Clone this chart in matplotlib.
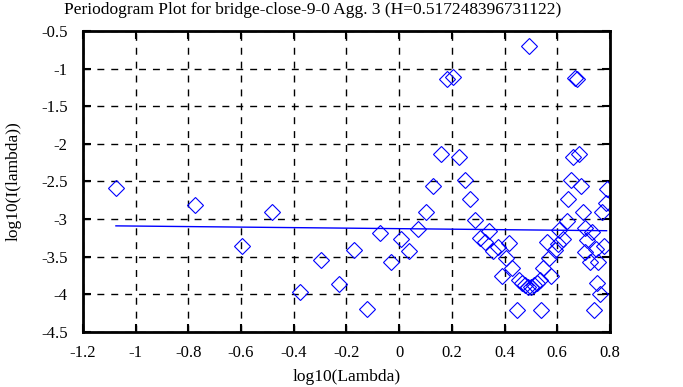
import numpy as np
import matplotlib
matplotlib.use("Agg")
import matplotlib.pyplot as plt

# ---------------------------------------------
# DATA
# ---------------------------------------------

log_lambda = [
    -1.075, -0.775, -0.597, -0.483, -0.377, -0.297, -0.228, -0.171, -0.122,
    -0.073, -0.031, 0.006, 0.038, 0.073, 0.102, 0.129, 0.159, 0.180, 0.203,
    0.228, 0.251, 0.269, 0.289, 0.307, 0.326, 0.342, 0.357, 0.374, 0.389,
    0.405, 0.418, 0.430, 0.446,
    0.455, 0.466, 0.477, 0.489, 0.500, 0.512, 0.523, 0.534,
    0.494, 0.538, 0.547, 0.560, 0.570, 0.578, 0.591, 0.604, 0.608, 0.623,
    0.635, 0.642, 0.652, 0.658, 0.667, 0.676, 0.682, 0.690, 0.696, 0.705,
    0.706, 0.714, 0.724, 0.733, 0.746, 0.749, 0.740, 0.756, 0.762, 0.768,
    0.777, 0.783, 0.787,
]
log_power = [
    -2.59, -2.81, -3.36, -2.91, -3.97, -3.54, -3.86, -3.41, -4.19,
    -3.18, -3.57, -3.27, -3.43, -3.13, -2.91, -2.56, -2.13, -1.14, -1.11,
    -2.17, -2.48, -2.73, -3.01, -3.25, -3.31, -3.16, -3.43, -3.37, -3.75,
    -3.52, -3.32, -3.65, -4.21,
    -3.81, -3.85, -3.88, -3.90, -3.90, -3.88, -3.85, -3.81,
    -0.70, -4.21, -3.65, -3.30, -3.52, -3.76, -3.41, -3.33, -3.14, -3.26,
    -3.03, -2.73, -2.48, -2.17, -1.12, -1.14, -2.13, -2.56, -2.91, -3.12,
    -3.44, -3.28, -3.57, -3.17, -3.40, -3.85, -4.21, -3.57, -3.99, -2.90,
    -3.36, -2.79, -2.60,
]

H = 0.517248396731122
slope = 1 - 2 * H
intercept = -3.127

xticks = [-1.2, -1, -0.8, -0.6, -0.4, -0.2, 0, 0.2, 0.4, 0.6, 0.8]
yticks = [-4.5, -4, -3.5, -3, -2.5, -2, -1.5, -1, -0.5]

# ---------------------------------------------
# PLOT
# ---------------------------------------------

plt.rcParams["font.family"] = ["Liberation Serif", "DejaVu Serif"]

fig = plt.figure(figsize=(6.83, 3.87), dpi=100)
ax = fig.add_axes([0.1215, 0.1421, 0.7716, 0.778])

ax.plot(log_lambda, log_power, linestyle="none", marker="D", markersize=8,
        markerfacecolor="none", markeredgecolor="blue", markeredgewidth=0.8)

fit_x = np.array([min(log_lambda), max(log_lambda)])
ax.plot(fit_x, intercept + slope * fit_x, color="blue", linewidth=1)

ax.set_xlim(-1.2, 0.8)
ax.set_ylim(-4.5, -0.5)
ax.set_xticks(xticks)
ax.set_yticks(yticks)
ax.set_xticklabels([f"{t:g}" for t in xticks])
ax.set_yticklabels([f"{t:g}" for t in yticks])
ax.tick_params(direction="in", length=6, width=1.5, top=True, right=True,
               labelsize=12, colors="black")
ax.tick_params(axis="x", pad=9)
ax.tick_params(axis="y", pad=11)
ax.grid(True, color="black", linestyle=(0, (5, 5)), linewidth=1)
for s in ax.spines.values():
    s.set_linewidth(2)

# title sits left of the axes centre in the reference
fig.text(0.457, 0.975,
         "Periodogram Plot for bridge-close-9-0 Agg. 3 (H=0.517248396731122)",
         fontsize=12.5, ha="center", va="center")
ax.set_xlabel("log10(Lambda)", fontsize=12.5, labelpad=6)
ax.set_ylabel("log10(I(lambda))", fontsize=12.5, labelpad=14)

fig.savefig("out.png", dpi=100)
